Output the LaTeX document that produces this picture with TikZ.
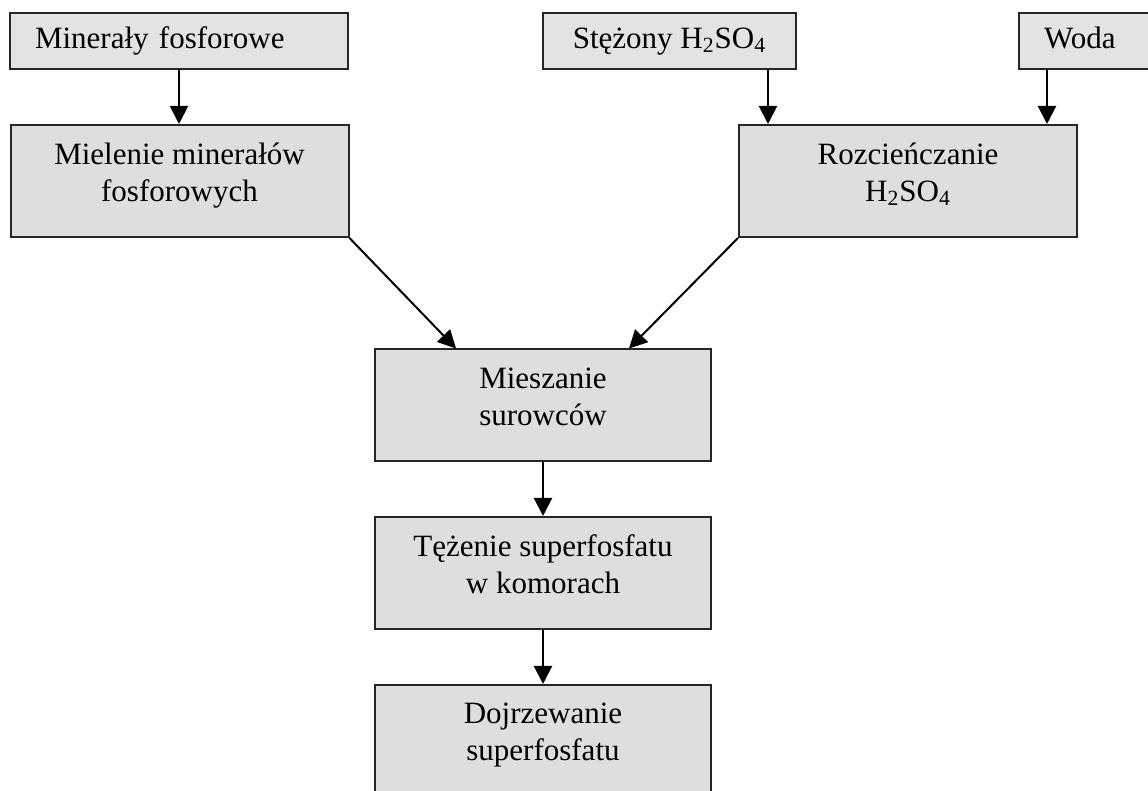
\documentclass[tikz,border=0pt]{standalone}
\usepackage{fontspec}
\setmainfont{Liberation Serif}
\usetikzlibrary{arrows.meta}

\definecolor{boxgray}{RGB}{222,222,222}
\definecolor{topgray}{RGB}{227,226,228}

\tikzset{
    box/.style={draw=black!85, line width=1pt, fill=boxgray, inner sep=0pt,
        minimum width=169pt, minimum height=56pt, align=center, text depth=9pt,
        font=\fontsize{15.5}{18.5}\selectfont},
    topbox/.style={box, fill=topgray, minimum height=28pt, text height=11pt, text depth=3.5pt},
    arr/.style={-{Triangle[length=9pt,width=9pt]}, line width=1pt},
}

\begin{document}
\begin{tikzpicture}[x=0.5pt, y=-0.5pt]
        \useasboundingbox (0,0) rectangle (1148,791);
        \clip (0,0) rectangle (1148,791);

        % raw materials
        \node[topbox, text width=144pt, align=left] (mineraly) at (179,41) {Minerały fosforowe};
        \node[topbox, minimum width=126.5pt] (stezony) at (669.5,41) {Stężony H\textsubscript{2}SO\textsubscript{4}};
        \node[topbox, minimum width=75pt, text width=50pt, align=left] (woda) at (1094,41) {Woda};

        % preparation
        \node[box] (mielenie) at (179.5,181) {Mielenie minerałów\\fosforowych};
        \node[box] (rozc) at (908,181) {Rozcieńczanie\\H\textsubscript{2}SO\textsubscript{4}};

        % main line
        \node[box, minimum width=168pt] (mieszanie) at (543,405.5) {Mieszanie\\surowców};
        \node[box, minimum width=168pt] (tezenie) at (543,573) {Tężenie superfosfatu\\w komorach};
        \node[box, minimum width=168pt] (dojrz) at (543,741) {Dojrzewanie\\superfosfatu};

        \coordinate (s1) at ([xshift=-14.5pt]stezony.south east);
        \coordinate (w1) at ([xshift=14.5pt]woda.south west);

        \draw[arr] (mineraly.south) -- (mineraly.south |- mielenie.north);
        \draw[arr] (s1) -- (s1 |- rozc.north);
        \draw[arr] (w1) -- (w1 |- rozc.north);
        %
        \draw[arr] (mielenie.south east) -- ([xshift=41pt]mieszanie.north west);
        \draw[arr] (rozc.south west) -- ([xshift=-41.5pt]mieszanie.north east);
        %
        \draw[arr] (mieszanie) -- (tezenie);
        \draw[arr] (tezenie) -- (dojrz);
    \end{tikzpicture}
\end{document}
